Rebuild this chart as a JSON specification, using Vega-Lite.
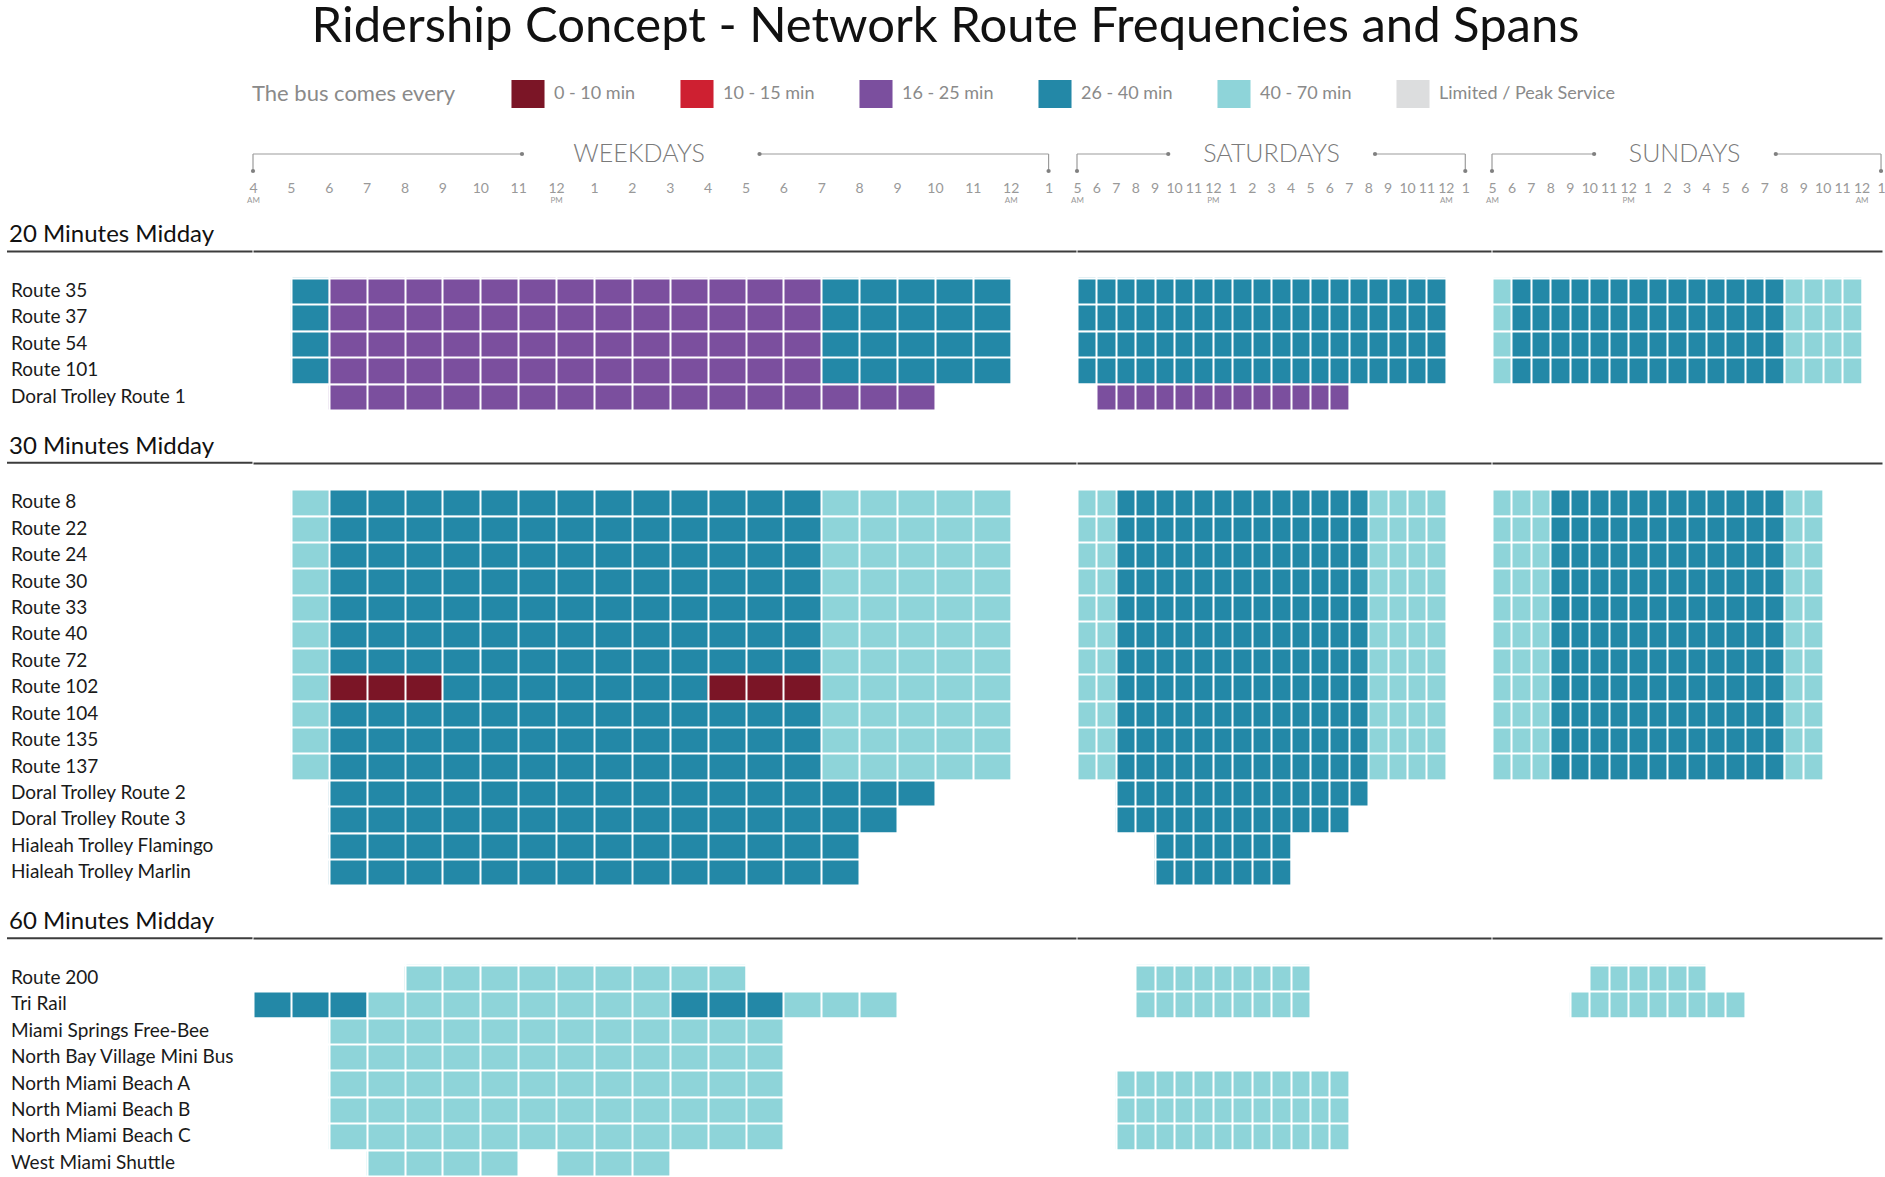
{
"$schema": "https://vega.github.io/schema/vega-lite/v6.json",
"padding": {"left": 6, "top": 3, "right": 0, "bottom": 0},
"title": {"text": "Ridership Concept - Network Route Frequencies and Spans", "font": "Lato", "fontSize": 49, "fontWeight": "normal", "color": "#111111", "anchor": "middle", "offset": 28},
"config": {"view": {"stroke": null}, "font": "Lato"},
"datasets": {
"rows": [
{"label":"20 Minutes Midday","kind":"section"},
{"label":"Route 35","kind":"route"},
{"label":"Route 37","kind":"route"},
{"label":"Route 54","kind":"route"},
{"label":"Route 101","kind":"route"},
{"label":"Doral Trolley Route 1","kind":"route"},
{"label":"30 Minutes Midday","kind":"section"},
{"label":"Route 8","kind":"route"},
{"label":"Route 22","kind":"route"},
{"label":"Route 24","kind":"route"},
{"label":"Route 30","kind":"route"},
{"label":"Route 33","kind":"route"},
{"label":"Route 40","kind":"route"},
{"label":"Route 72","kind":"route"},
{"label":"Route 102","kind":"route"},
{"label":"Route 104","kind":"route"},
{"label":"Route 135","kind":"route"},
{"label":"Route 137","kind":"route"},
{"label":"Doral Trolley Route 2","kind":"route"},
{"label":"Doral Trolley Route 3","kind":"route"},
{"label":"Hialeah Trolley Flamingo","kind":"route"},
{"label":"Hialeah Trolley Marlin","kind":"route"},
{"label":"60 Minutes Midday","kind":"section"},
{"label":"Route 200","kind":"route"},
{"label":"Tri Rail","kind":"route"},
{"label":"Miami Springs Free-Bee","kind":"route"},
{"label":"North Bay Village Mini Bus","kind":"route"},
{"label":"North Miami Beach A","kind":"route"},
{"label":"North Miami Beach B","kind":"route"},
{"label":"North Miami Beach C","kind":"route"},
{"label":"West Miami Shuttle","kind":"route"}
],
"spans": [
{"day":"Weekdays","route":"Route 35","start":5,"end":6,"freq":"26 - 40 min"},
{"day":"Weekdays","route":"Route 35","start":6,"end":19,"freq":"16 - 25 min"},
{"day":"Weekdays","route":"Route 35","start":19,"end":24,"freq":"26 - 40 min"},
{"day":"Weekdays","route":"Route 37","start":5,"end":6,"freq":"26 - 40 min"},
{"day":"Weekdays","route":"Route 37","start":6,"end":19,"freq":"16 - 25 min"},
{"day":"Weekdays","route":"Route 37","start":19,"end":24,"freq":"26 - 40 min"},
{"day":"Weekdays","route":"Route 54","start":5,"end":6,"freq":"26 - 40 min"},
{"day":"Weekdays","route":"Route 54","start":6,"end":19,"freq":"16 - 25 min"},
{"day":"Weekdays","route":"Route 54","start":19,"end":24,"freq":"26 - 40 min"},
{"day":"Weekdays","route":"Route 101","start":5,"end":6,"freq":"26 - 40 min"},
{"day":"Weekdays","route":"Route 101","start":6,"end":19,"freq":"16 - 25 min"},
{"day":"Weekdays","route":"Route 101","start":19,"end":24,"freq":"26 - 40 min"},
{"day":"Weekdays","route":"Doral Trolley Route 1","start":6,"end":22,"freq":"16 - 25 min"},
{"day":"Weekdays","route":"Route 8","start":5,"end":6,"freq":"40 - 70 min"},
{"day":"Weekdays","route":"Route 8","start":6,"end":19,"freq":"26 - 40 min"},
{"day":"Weekdays","route":"Route 8","start":19,"end":24,"freq":"40 - 70 min"},
{"day":"Weekdays","route":"Route 22","start":5,"end":6,"freq":"40 - 70 min"},
{"day":"Weekdays","route":"Route 22","start":6,"end":19,"freq":"26 - 40 min"},
{"day":"Weekdays","route":"Route 22","start":19,"end":24,"freq":"40 - 70 min"},
{"day":"Weekdays","route":"Route 24","start":5,"end":6,"freq":"40 - 70 min"},
{"day":"Weekdays","route":"Route 24","start":6,"end":19,"freq":"26 - 40 min"},
{"day":"Weekdays","route":"Route 24","start":19,"end":24,"freq":"40 - 70 min"},
{"day":"Weekdays","route":"Route 30","start":5,"end":6,"freq":"40 - 70 min"},
{"day":"Weekdays","route":"Route 30","start":6,"end":19,"freq":"26 - 40 min"},
{"day":"Weekdays","route":"Route 30","start":19,"end":24,"freq":"40 - 70 min"},
{"day":"Weekdays","route":"Route 33","start":5,"end":6,"freq":"40 - 70 min"},
{"day":"Weekdays","route":"Route 33","start":6,"end":19,"freq":"26 - 40 min"},
{"day":"Weekdays","route":"Route 33","start":19,"end":24,"freq":"40 - 70 min"},
{"day":"Weekdays","route":"Route 40","start":5,"end":6,"freq":"40 - 70 min"},
{"day":"Weekdays","route":"Route 40","start":6,"end":19,"freq":"26 - 40 min"},
{"day":"Weekdays","route":"Route 40","start":19,"end":24,"freq":"40 - 70 min"},
{"day":"Weekdays","route":"Route 72","start":5,"end":6,"freq":"40 - 70 min"},
{"day":"Weekdays","route":"Route 72","start":6,"end":19,"freq":"26 - 40 min"},
{"day":"Weekdays","route":"Route 72","start":19,"end":24,"freq":"40 - 70 min"},
{"day":"Weekdays","route":"Route 102","start":5,"end":6,"freq":"40 - 70 min"},
{"day":"Weekdays","route":"Route 102","start":6,"end":9,"freq":"0 - 10 min"},
{"day":"Weekdays","route":"Route 102","start":9,"end":16,"freq":"26 - 40 min"},
{"day":"Weekdays","route":"Route 102","start":16,"end":19,"freq":"0 - 10 min"},
{"day":"Weekdays","route":"Route 102","start":19,"end":24,"freq":"40 - 70 min"},
{"day":"Weekdays","route":"Route 104","start":5,"end":6,"freq":"40 - 70 min"},
{"day":"Weekdays","route":"Route 104","start":6,"end":19,"freq":"26 - 40 min"},
{"day":"Weekdays","route":"Route 104","start":19,"end":24,"freq":"40 - 70 min"},
{"day":"Weekdays","route":"Route 135","start":5,"end":6,"freq":"40 - 70 min"},
{"day":"Weekdays","route":"Route 135","start":6,"end":19,"freq":"26 - 40 min"},
{"day":"Weekdays","route":"Route 135","start":19,"end":24,"freq":"40 - 70 min"},
{"day":"Weekdays","route":"Route 137","start":5,"end":6,"freq":"40 - 70 min"},
{"day":"Weekdays","route":"Route 137","start":6,"end":19,"freq":"26 - 40 min"},
{"day":"Weekdays","route":"Route 137","start":19,"end":24,"freq":"40 - 70 min"},
{"day":"Weekdays","route":"Doral Trolley Route 2","start":6,"end":22,"freq":"26 - 40 min"},
{"day":"Weekdays","route":"Doral Trolley Route 3","start":6,"end":21,"freq":"26 - 40 min"},
{"day":"Weekdays","route":"Hialeah Trolley Flamingo","start":6,"end":20,"freq":"26 - 40 min"},
{"day":"Weekdays","route":"Hialeah Trolley Marlin","start":6,"end":20,"freq":"26 - 40 min"},
{"day":"Weekdays","route":"Route 200","start":8,"end":17,"freq":"40 - 70 min"},
{"day":"Weekdays","route":"Tri Rail","start":4,"end":7,"freq":"26 - 40 min"},
{"day":"Weekdays","route":"Tri Rail","start":7,"end":15,"freq":"40 - 70 min"},
{"day":"Weekdays","route":"Tri Rail","start":15,"end":18,"freq":"26 - 40 min"},
{"day":"Weekdays","route":"Tri Rail","start":18,"end":21,"freq":"40 - 70 min"},
{"day":"Weekdays","route":"Miami Springs Free-Bee","start":6,"end":18,"freq":"40 - 70 min"},
{"day":"Weekdays","route":"North Bay Village Mini Bus","start":6,"end":18,"freq":"40 - 70 min"},
{"day":"Weekdays","route":"North Miami Beach A","start":6,"end":18,"freq":"40 - 70 min"},
{"day":"Weekdays","route":"North Miami Beach B","start":6,"end":18,"freq":"40 - 70 min"},
{"day":"Weekdays","route":"North Miami Beach C","start":6,"end":18,"freq":"40 - 70 min"},
{"day":"Weekdays","route":"West Miami Shuttle","start":7,"end":11,"freq":"40 - 70 min"},
{"day":"Weekdays","route":"West Miami Shuttle","start":12,"end":15,"freq":"40 - 70 min"},
{"day":"Saturdays","route":"Route 35","start":5,"end":24,"freq":"26 - 40 min"},
{"day":"Saturdays","route":"Route 37","start":5,"end":24,"freq":"26 - 40 min"},
{"day":"Saturdays","route":"Route 54","start":5,"end":24,"freq":"26 - 40 min"},
{"day":"Saturdays","route":"Route 101","start":5,"end":24,"freq":"26 - 40 min"},
{"day":"Saturdays","route":"Doral Trolley Route 1","start":6,"end":19,"freq":"16 - 25 min"},
{"day":"Saturdays","route":"Route 8","start":5,"end":7,"freq":"40 - 70 min"},
{"day":"Saturdays","route":"Route 8","start":7,"end":20,"freq":"26 - 40 min"},
{"day":"Saturdays","route":"Route 8","start":20,"end":24,"freq":"40 - 70 min"},
{"day":"Saturdays","route":"Route 22","start":5,"end":7,"freq":"40 - 70 min"},
{"day":"Saturdays","route":"Route 22","start":7,"end":20,"freq":"26 - 40 min"},
{"day":"Saturdays","route":"Route 22","start":20,"end":24,"freq":"40 - 70 min"},
{"day":"Saturdays","route":"Route 24","start":5,"end":7,"freq":"40 - 70 min"},
{"day":"Saturdays","route":"Route 24","start":7,"end":20,"freq":"26 - 40 min"},
{"day":"Saturdays","route":"Route 24","start":20,"end":24,"freq":"40 - 70 min"},
{"day":"Saturdays","route":"Route 30","start":5,"end":7,"freq":"40 - 70 min"},
{"day":"Saturdays","route":"Route 30","start":7,"end":20,"freq":"26 - 40 min"},
{"day":"Saturdays","route":"Route 30","start":20,"end":24,"freq":"40 - 70 min"},
{"day":"Saturdays","route":"Route 33","start":5,"end":7,"freq":"40 - 70 min"},
{"day":"Saturdays","route":"Route 33","start":7,"end":20,"freq":"26 - 40 min"},
{"day":"Saturdays","route":"Route 33","start":20,"end":24,"freq":"40 - 70 min"},
{"day":"Saturdays","route":"Route 40","start":5,"end":7,"freq":"40 - 70 min"},
{"day":"Saturdays","route":"Route 40","start":7,"end":20,"freq":"26 - 40 min"},
{"day":"Saturdays","route":"Route 40","start":20,"end":24,"freq":"40 - 70 min"},
{"day":"Saturdays","route":"Route 72","start":5,"end":7,"freq":"40 - 70 min"},
{"day":"Saturdays","route":"Route 72","start":7,"end":20,"freq":"26 - 40 min"},
{"day":"Saturdays","route":"Route 72","start":20,"end":24,"freq":"40 - 70 min"},
{"day":"Saturdays","route":"Route 102","start":5,"end":7,"freq":"40 - 70 min"},
{"day":"Saturdays","route":"Route 102","start":7,"end":20,"freq":"26 - 40 min"},
{"day":"Saturdays","route":"Route 102","start":20,"end":24,"freq":"40 - 70 min"},
{"day":"Saturdays","route":"Route 104","start":5,"end":7,"freq":"40 - 70 min"},
{"day":"Saturdays","route":"Route 104","start":7,"end":20,"freq":"26 - 40 min"},
{"day":"Saturdays","route":"Route 104","start":20,"end":24,"freq":"40 - 70 min"},
{"day":"Saturdays","route":"Route 135","start":5,"end":7,"freq":"40 - 70 min"},
{"day":"Saturdays","route":"Route 135","start":7,"end":20,"freq":"26 - 40 min"},
{"day":"Saturdays","route":"Route 135","start":20,"end":24,"freq":"40 - 70 min"},
{"day":"Saturdays","route":"Route 137","start":5,"end":7,"freq":"40 - 70 min"},
{"day":"Saturdays","route":"Route 137","start":7,"end":20,"freq":"26 - 40 min"},
{"day":"Saturdays","route":"Route 137","start":20,"end":24,"freq":"40 - 70 min"},
{"day":"Saturdays","route":"Doral Trolley Route 2","start":7,"end":20,"freq":"26 - 40 min"},
{"day":"Saturdays","route":"Doral Trolley Route 3","start":7,"end":19,"freq":"26 - 40 min"},
{"day":"Saturdays","route":"Hialeah Trolley Flamingo","start":9,"end":16,"freq":"26 - 40 min"},
{"day":"Saturdays","route":"Hialeah Trolley Marlin","start":9,"end":16,"freq":"26 - 40 min"},
{"day":"Saturdays","route":"Route 200","start":8,"end":17,"freq":"40 - 70 min"},
{"day":"Saturdays","route":"Tri Rail","start":8,"end":17,"freq":"40 - 70 min"},
{"day":"Saturdays","route":"North Miami Beach A","start":7,"end":19,"freq":"40 - 70 min"},
{"day":"Saturdays","route":"North Miami Beach B","start":7,"end":19,"freq":"40 - 70 min"},
{"day":"Saturdays","route":"North Miami Beach C","start":7,"end":19,"freq":"40 - 70 min"},
{"day":"Sundays","route":"Route 35","start":5,"end":6,"freq":"40 - 70 min"},
{"day":"Sundays","route":"Route 35","start":6,"end":20,"freq":"26 - 40 min"},
{"day":"Sundays","route":"Route 35","start":20,"end":24,"freq":"40 - 70 min"},
{"day":"Sundays","route":"Route 37","start":5,"end":6,"freq":"40 - 70 min"},
{"day":"Sundays","route":"Route 37","start":6,"end":20,"freq":"26 - 40 min"},
{"day":"Sundays","route":"Route 37","start":20,"end":24,"freq":"40 - 70 min"},
{"day":"Sundays","route":"Route 54","start":5,"end":6,"freq":"40 - 70 min"},
{"day":"Sundays","route":"Route 54","start":6,"end":20,"freq":"26 - 40 min"},
{"day":"Sundays","route":"Route 54","start":20,"end":24,"freq":"40 - 70 min"},
{"day":"Sundays","route":"Route 101","start":5,"end":6,"freq":"40 - 70 min"},
{"day":"Sundays","route":"Route 101","start":6,"end":20,"freq":"26 - 40 min"},
{"day":"Sundays","route":"Route 101","start":20,"end":24,"freq":"40 - 70 min"},
{"day":"Sundays","route":"Route 8","start":5,"end":8,"freq":"40 - 70 min"},
{"day":"Sundays","route":"Route 8","start":8,"end":20,"freq":"26 - 40 min"},
{"day":"Sundays","route":"Route 8","start":20,"end":22,"freq":"40 - 70 min"},
{"day":"Sundays","route":"Route 22","start":5,"end":8,"freq":"40 - 70 min"},
{"day":"Sundays","route":"Route 22","start":8,"end":20,"freq":"26 - 40 min"},
{"day":"Sundays","route":"Route 22","start":20,"end":22,"freq":"40 - 70 min"},
{"day":"Sundays","route":"Route 24","start":5,"end":8,"freq":"40 - 70 min"},
{"day":"Sundays","route":"Route 24","start":8,"end":20,"freq":"26 - 40 min"},
{"day":"Sundays","route":"Route 24","start":20,"end":22,"freq":"40 - 70 min"},
{"day":"Sundays","route":"Route 30","start":5,"end":8,"freq":"40 - 70 min"},
{"day":"Sundays","route":"Route 30","start":8,"end":20,"freq":"26 - 40 min"},
{"day":"Sundays","route":"Route 30","start":20,"end":22,"freq":"40 - 70 min"},
{"day":"Sundays","route":"Route 33","start":5,"end":8,"freq":"40 - 70 min"},
{"day":"Sundays","route":"Route 33","start":8,"end":20,"freq":"26 - 40 min"},
{"day":"Sundays","route":"Route 33","start":20,"end":22,"freq":"40 - 70 min"},
{"day":"Sundays","route":"Route 40","start":5,"end":8,"freq":"40 - 70 min"},
{"day":"Sundays","route":"Route 40","start":8,"end":20,"freq":"26 - 40 min"},
{"day":"Sundays","route":"Route 40","start":20,"end":22,"freq":"40 - 70 min"},
{"day":"Sundays","route":"Route 72","start":5,"end":8,"freq":"40 - 70 min"},
{"day":"Sundays","route":"Route 72","start":8,"end":20,"freq":"26 - 40 min"},
{"day":"Sundays","route":"Route 72","start":20,"end":22,"freq":"40 - 70 min"},
{"day":"Sundays","route":"Route 102","start":5,"end":8,"freq":"40 - 70 min"},
{"day":"Sundays","route":"Route 102","start":8,"end":20,"freq":"26 - 40 min"},
{"day":"Sundays","route":"Route 102","start":20,"end":22,"freq":"40 - 70 min"},
{"day":"Sundays","route":"Route 104","start":5,"end":8,"freq":"40 - 70 min"},
{"day":"Sundays","route":"Route 104","start":8,"end":20,"freq":"26 - 40 min"},
{"day":"Sundays","route":"Route 104","start":20,"end":22,"freq":"40 - 70 min"},
{"day":"Sundays","route":"Route 135","start":5,"end":8,"freq":"40 - 70 min"},
{"day":"Sundays","route":"Route 135","start":8,"end":20,"freq":"26 - 40 min"},
{"day":"Sundays","route":"Route 135","start":20,"end":22,"freq":"40 - 70 min"},
{"day":"Sundays","route":"Route 137","start":5,"end":8,"freq":"40 - 70 min"},
{"day":"Sundays","route":"Route 137","start":8,"end":20,"freq":"26 - 40 min"},
{"day":"Sundays","route":"Route 137","start":20,"end":22,"freq":"40 - 70 min"},
{"day":"Sundays","route":"Route 200","start":10,"end":16,"freq":"40 - 70 min"},
{"day":"Sundays","route":"Tri Rail","start":9,"end":18,"freq":"40 - 70 min"}
]
},
"spacing": 85,
"bounds": "flush",
"vconcat": [
{"spacing": 0, "bounds": "flush", "hconcat": [
 {"width": 246, "height": 40, "data": {"values": [{}]}, "mark": {"type": "text", "text": ""}, "encoding": {}},
 {"width": 824, "height": 40, "data": {"values": [{}]}, "resolve": {"axis": {"x": "independent"}},
  "layer": [
   {"mark": {"type": "rule", "color": "#9b9b9b", "strokeWidth": 1.2},
    "encoding": {
     "x": {"datum": 4, "type": "quantitative", "scale": {"domain": [4, 25.75], "nice": false, "zero": false},
      "axis": {"orient": "bottom", "values": [4,5,6,7,8,9,10,11,12,13,14,15,16,17,18,19,20,21,22,23,24,25], "labelExpr": "datum.value % 12 == 0 ? '12' : '' + (datum.value % 12)", "labelFontSize": 14, "labelColor": "#999999", "labelFontWeight": "normal", "labelPadding": 1, "labelOverlap": false, "labelFlush": false, "labelBaseline": "top", "ticks": false, "tickSize": 0, "domain": false, "grid": false, "title": null}},
     "x2": {"datum": 11.1},
     "y": {"datum": 14, "type": "quantitative", "scale": {"domain": [0, 40], "reverse": true, "nice": false, "zero": false}, "axis": null}}},
   {"mark": {"type": "rule", "color": "#9b9b9b", "strokeWidth": 1.2},
    "encoding": {
     "x": {"datum": 17.37, "type": "quantitative",
      "axis": {"orient": "bottom", "values": [4, 12, 24], "labelExpr": "datum.value == 12 ? 'PM' : 'AM'", "labelFontSize": 8, "labelColor": "#999999", "labelPadding": 16, "labelOverlap": false, "labelFlush": false, "labelBaseline": "top", "ticks": false, "tickSize": 0, "domain": false, "grid": false, "title": null}},
     "x2": {"datum": 25},
     "y": {"datum": 14, "type": "quantitative", "axis": null}}},
   {"mark": {"type": "rule", "color": "#9b9b9b", "strokeWidth": 1.2},
    "encoding": {"x": {"datum": 4, "type": "quantitative", "axis": null}, "y": {"datum": 14, "type": "quantitative", "axis": null}, "y2": {"datum": 31}}},
   {"mark": {"type": "rule", "color": "#9b9b9b", "strokeWidth": 1.2},
    "encoding": {"x": {"datum": 25, "type": "quantitative", "axis": null}, "y": {"datum": 14, "type": "quantitative", "axis": null}, "y2": {"datum": 31}}},
   {"mark": {"type": "point", "filled": true, "size": 18, "color": "#808080", "opacity": 1},
    "encoding": {"x": {"datum": 4, "type": "quantitative", "axis": null}, "y": {"datum": 31, "type": "quantitative", "axis": null}}},
   {"mark": {"type": "point", "filled": true, "size": 18, "color": "#808080", "opacity": 1},
    "encoding": {"x": {"datum": 25, "type": "quantitative", "axis": null}, "y": {"datum": 31, "type": "quantitative", "axis": null}}},
   {"mark": {"type": "point", "filled": true, "size": 18, "color": "#808080", "opacity": 1},
    "encoding": {"x": {"datum": 11.1, "type": "quantitative", "axis": null}, "y": {"datum": 14, "type": "quantitative", "axis": null}}},
   {"mark": {"type": "point", "filled": true, "size": 18, "color": "#808080", "opacity": 1},
    "encoding": {"x": {"datum": 17.37, "type": "quantitative", "axis": null}, "y": {"datum": 14, "type": "quantitative", "axis": null}}},
   {"mark": {"type": "text", "text": "WEEKDAYS", "fontSize": 25, "fontWeight": 300, "color": "#7a7a7a", "align": "center", "baseline": "middle"},
    "encoding": {"x": {"datum": 14.19, "type": "quantitative", "axis": null}, "y": {"datum": 14, "type": "quantitative", "axis": null}}}
  ]},
 {"width": 414.5, "height": 40, "data": {"values": [{}]}, "resolve": {"axis": {"x": "independent"}},
  "layer": [
   {"mark": {"type": "rule", "color": "#9b9b9b", "strokeWidth": 1.2},
    "encoding": {
     "x": {"datum": 5, "type": "quantitative", "scale": {"domain": [5, 26.35], "nice": false, "zero": false},
      "axis": {"orient": "bottom", "values": [5,6,7,8,9,10,11,12,13,14,15,16,17,18,19,20,21,22,23,24,25], "labelExpr": "datum.value % 12 == 0 ? '12' : '' + (datum.value % 12)", "labelFontSize": 14, "labelColor": "#999999", "labelFontWeight": "normal", "labelPadding": 1, "labelOverlap": false, "labelFlush": false, "labelBaseline": "top", "ticks": false, "tickSize": 0, "domain": false, "grid": false, "title": null}},
     "x2": {"datum": 9.7},
     "y": {"datum": 14, "type": "quantitative", "scale": {"domain": [0, 40], "reverse": true, "nice": false, "zero": false}, "axis": null}}},
   {"mark": {"type": "rule", "color": "#9b9b9b", "strokeWidth": 1.2},
    "encoding": {
     "x": {"datum": 20.35, "type": "quantitative",
      "axis": {"orient": "bottom", "values": [5, 12, 24], "labelExpr": "datum.value == 12 ? 'PM' : 'AM'", "labelFontSize": 8, "labelColor": "#999999", "labelPadding": 16, "labelOverlap": false, "labelFlush": false, "labelBaseline": "top", "ticks": false, "tickSize": 0, "domain": false, "grid": false, "title": null}},
     "x2": {"datum": 25},
     "y": {"datum": 14, "type": "quantitative", "axis": null}}},
   {"mark": {"type": "rule", "color": "#9b9b9b", "strokeWidth": 1.2},
    "encoding": {"x": {"datum": 5, "type": "quantitative", "axis": null}, "y": {"datum": 14, "type": "quantitative", "axis": null}, "y2": {"datum": 31}}},
   {"mark": {"type": "rule", "color": "#9b9b9b", "strokeWidth": 1.2},
    "encoding": {"x": {"datum": 25, "type": "quantitative", "axis": null}, "y": {"datum": 14, "type": "quantitative", "axis": null}, "y2": {"datum": 31}}},
   {"mark": {"type": "point", "filled": true, "size": 18, "color": "#808080", "opacity": 1},
    "encoding": {"x": {"datum": 5, "type": "quantitative", "axis": null}, "y": {"datum": 31, "type": "quantitative", "axis": null}}},
   {"mark": {"type": "point", "filled": true, "size": 18, "color": "#808080", "opacity": 1},
    "encoding": {"x": {"datum": 25, "type": "quantitative", "axis": null}, "y": {"datum": 31, "type": "quantitative", "axis": null}}},
   {"mark": {"type": "point", "filled": true, "size": 18, "color": "#808080", "opacity": 1},
    "encoding": {"x": {"datum": 9.7, "type": "quantitative", "axis": null}, "y": {"datum": 14, "type": "quantitative", "axis": null}}},
   {"mark": {"type": "point", "filled": true, "size": 18, "color": "#808080", "opacity": 1},
    "encoding": {"x": {"datum": 20.35, "type": "quantitative", "axis": null}, "y": {"datum": 14, "type": "quantitative", "axis": null}}},
   {"mark": {"type": "text", "text": "SATURDAYS", "fontSize": 25, "fontWeight": 300, "color": "#7a7a7a", "align": "center", "baseline": "middle"},
    "encoding": {"x": {"datum": 15.02, "type": "quantitative", "axis": null}, "y": {"datum": 14, "type": "quantitative", "axis": null}}}
  ]},
 {"width": 390, "height": 40, "data": {"values": [{}]}, "resolve": {"axis": {"x": "independent"}},
  "layer": [
   {"mark": {"type": "rule", "color": "#9b9b9b", "strokeWidth": 1.2},
    "encoding": {
     "x": {"datum": 5, "type": "quantitative", "scale": {"domain": [5, 25.05], "nice": false, "zero": false},
      "axis": {"orient": "bottom", "values": [5,6,7,8,9,10,11,12,13,14,15,16,17,18,19,20,21,22,23,24,25], "labelExpr": "datum.value % 12 == 0 ? '12' : '' + (datum.value % 12)", "labelFontSize": 14, "labelColor": "#999999", "labelFontWeight": "normal", "labelPadding": 1, "labelOverlap": false, "labelFlush": false, "labelBaseline": "top", "ticks": false, "tickSize": 0, "domain": false, "grid": false, "title": null}},
     "x2": {"datum": 10.25},
     "y": {"datum": 14, "type": "quantitative", "scale": {"domain": [0, 40], "reverse": true, "nice": false, "zero": false}, "axis": null}}},
   {"mark": {"type": "rule", "color": "#9b9b9b", "strokeWidth": 1.2},
    "encoding": {
     "x": {"datum": 19.59, "type": "quantitative",
      "axis": {"orient": "bottom", "values": [5, 12, 24], "labelExpr": "datum.value == 12 ? 'PM' : 'AM'", "labelFontSize": 8, "labelColor": "#999999", "labelPadding": 16, "labelOverlap": false, "labelFlush": false, "labelBaseline": "top", "ticks": false, "tickSize": 0, "domain": false, "grid": false, "title": null}},
     "x2": {"datum": 25},
     "y": {"datum": 14, "type": "quantitative", "axis": null}}},
   {"mark": {"type": "rule", "color": "#9b9b9b", "strokeWidth": 1.2},
    "encoding": {"x": {"datum": 5, "type": "quantitative", "axis": null}, "y": {"datum": 14, "type": "quantitative", "axis": null}, "y2": {"datum": 31}}},
   {"mark": {"type": "rule", "color": "#9b9b9b", "strokeWidth": 1.2},
    "encoding": {"x": {"datum": 25, "type": "quantitative", "axis": null}, "y": {"datum": 14, "type": "quantitative", "axis": null}, "y2": {"datum": 31}}},
   {"mark": {"type": "point", "filled": true, "size": 18, "color": "#808080", "opacity": 1},
    "encoding": {"x": {"datum": 5, "type": "quantitative", "axis": null}, "y": {"datum": 31, "type": "quantitative", "axis": null}}},
   {"mark": {"type": "point", "filled": true, "size": 18, "color": "#808080", "opacity": 1},
    "encoding": {"x": {"datum": 25, "type": "quantitative", "axis": null}, "y": {"datum": 31, "type": "quantitative", "axis": null}}},
   {"mark": {"type": "point", "filled": true, "size": 18, "color": "#808080", "opacity": 1},
    "encoding": {"x": {"datum": 10.25, "type": "quantitative", "axis": null}, "y": {"datum": 14, "type": "quantitative", "axis": null}}},
   {"mark": {"type": "point", "filled": true, "size": 18, "color": "#808080", "opacity": 1},
    "encoding": {"x": {"datum": 19.59, "type": "quantitative", "axis": null}, "y": {"datum": 14, "type": "quantitative", "axis": null}}},
   {"mark": {"type": "text", "text": "SUNDAYS", "fontSize": 25, "fontWeight": 300, "color": "#7a7a7a", "align": "center", "baseline": "middle"},
    "encoding": {"x": {"datum": 14.9, "type": "quantitative", "axis": null}, "y": {"datum": 14, "type": "quantitative", "axis": null}}}
  ]}
]},
{"spacing": 0, "bounds": "flush", "hconcat": [
 {"width": 246, "height": 951, "data": {"name": "rows"},
  "layer": [
   {"transform": [{"filter": "datum.kind == 'route'"}],
    "mark": {"type": "text", "align": "left", "baseline": "middle", "fontSize": 19, "color": "#1a1a1a", "dx": 4},
    "encoding": {
     "x": {"datum": 0, "type": "quantitative", "scale": {"domain": [0, 1]}, "axis": null},
     "y": {"field": "label", "type": "nominal", "scale": {"domain": ["20 Minutes Midday","_g1","Route 35","Route 37","Route 54","Route 101","Doral Trolley Route 1","_g2","30 Minutes Midday","_g3","Route 8","Route 22","Route 24","Route 30","Route 33","Route 40","Route 72","Route 102","Route 104","Route 135","Route 137","Doral Trolley Route 2","Doral Trolley Route 3","Hialeah Trolley Flamingo","Hialeah Trolley Marlin","_g4","60 Minutes Midday","_g5","Route 200","Tri Rail","Miami Springs Free-Bee","North Bay Village Mini Bus","North Miami Beach A","North Miami Beach B","North Miami Beach C","West Miami Shuttle"], "paddingInner": 0, "paddingOuter": 0}, "axis": null},
     "text": {"field": "label"}}},
   {"transform": [{"filter": "datum.kind == 'section'"}],
    "mark": {"type": "text", "align": "left", "baseline": "middle", "fontSize": 24, "color": "#111111", "dx": 2, "dy": -3},
    "encoding": {
     "x": {"datum": 0, "type": "quantitative", "axis": null},
     "y": {"field": "label", "type": "nominal", "axis": null},
     "text": {"field": "label"}}},
   {"transform": [{"filter": "datum.kind == 'section'"}],
    "mark": {"type": "rule", "color": "#3c3c3c", "strokeWidth": 2},
    "encoding": {"y": {"field": "label", "type": "nominal", "bandPosition": 1, "axis": null}}}
  ]},
 {"width": 824, "height": 951, "data": {"name": "spans"},
  "transform": [{"filter": "datum.day == 'Weekdays'"}],
  "mark": {"type": "rect"},
  "encoding": {
   "x": {"field": "start", "type": "quantitative", "scale": {"domain": [4, 25.75], "nice": false, "zero": false},
    "axis": {"orient": "top", "values": [4,5,6,7,8,9,10,11,12,13,14,15,16,17,18,19,20,21,22,23,24,25], "labels": false, "ticks": false, "domain": false, "grid": true, "gridColor": "#ffffff", "gridWidth": 2, "gridOpacity": 1, "zindex": 1, "title": null}},
   "x2": {"field": "end"},
   "y": {"field": "route", "type": "nominal", "scale": {"domain": ["20 Minutes Midday","_g1","Route 35","Route 37","Route 54","Route 101","Doral Trolley Route 1","_g2","30 Minutes Midday","_g3","Route 8","Route 22","Route 24","Route 30","Route 33","Route 40","Route 72","Route 102","Route 104","Route 135","Route 137","Doral Trolley Route 2","Doral Trolley Route 3","Hialeah Trolley Flamingo","Hialeah Trolley Marlin","_g4","60 Minutes Midday","_g5","Route 200","Tri Rail","Miami Springs Free-Bee","North Bay Village Mini Bus","North Miami Beach A","North Miami Beach B","North Miami Beach C","West Miami Shuttle"], "paddingInner": 0, "paddingOuter": 0},
    "axis": {"labels": false, "ticks": false, "domain": false, "grid": true, "tickBand": "extent", "gridColor": {"condition": {"test": "indexof(['20 Minutes Midday','30 Minutes Midday','60 Minutes Midday'], datum.value) >= 0", "value": "#3c3c3c"}, "value": "#ffffff"}, "gridWidth": 2, "gridOpacity": 1, "zindex": 1, "title": null}},
   "color": {"field": "freq", "type": "nominal", "scale": {"domain": ["0 - 10 min","10 - 15 min","16 - 25 min","26 - 40 min","40 - 70 min","Limited / Peak Service"], "range": ["#7B1526","#CE2031","#7B4F9E","#2388A7","#8ED4D9","#DCDDDE"]},
    "legend": {"orient": "none", "legendX": 245, "legendY": -60, "direction": "horizontal", "title": "The bus comes every", "titleOrient": "left", "titleAnchor": "middle", "titleBaseline": "middle", "titleFontSize": 22, "titleFontWeight": "normal", "titleColor": "#8a8a8a", "titlePadding": 58, "titleLimit": 400, "labelFontSize": 18, "labelColor": "#8a8a8a", "labelOffset": 12, "labelLimit": 300, "columnPadding": 44, "symbolType": "M-1.18,-1H1.18V1H-1.18Z", "symbolSize": 784, "symbolStrokeWidth": 0, "symbolOpacity": 1, "padding": 0}}
  }},
 {"width": 414.5, "height": 951, "data": {"name": "spans"},
  "transform": [{"filter": "datum.day == 'Saturdays'"}],
  "mark": {"type": "rect"},
  "encoding": {
   "x": {"field": "start", "type": "quantitative", "scale": {"domain": [5, 26.35], "nice": false, "zero": false},
    "axis": {"orient": "top", "values": [5,6,7,8,9,10,11,12,13,14,15,16,17,18,19,20,21,22,23,24,25], "labels": false, "ticks": false, "domain": false, "grid": true, "gridColor": "#ffffff", "gridWidth": 2, "gridOpacity": 1, "zindex": 1, "title": null}},
   "x2": {"field": "end"},
   "y": {"field": "route", "type": "nominal", "scale": {"domain": ["20 Minutes Midday","_g1","Route 35","Route 37","Route 54","Route 101","Doral Trolley Route 1","_g2","30 Minutes Midday","_g3","Route 8","Route 22","Route 24","Route 30","Route 33","Route 40","Route 72","Route 102","Route 104","Route 135","Route 137","Doral Trolley Route 2","Doral Trolley Route 3","Hialeah Trolley Flamingo","Hialeah Trolley Marlin","_g4","60 Minutes Midday","_g5","Route 200","Tri Rail","Miami Springs Free-Bee","North Bay Village Mini Bus","North Miami Beach A","North Miami Beach B","North Miami Beach C","West Miami Shuttle"], "paddingInner": 0, "paddingOuter": 0},
    "axis": {"labels": false, "ticks": false, "domain": false, "grid": true, "tickBand": "extent", "gridColor": {"condition": {"test": "indexof(['20 Minutes Midday','30 Minutes Midday','60 Minutes Midday'], datum.value) >= 0", "value": "#3c3c3c"}, "value": "#ffffff"}, "gridWidth": 2, "gridOpacity": 1, "zindex": 1, "title": null}},
   "color": {"field": "freq", "type": "nominal", "scale": {"domain": ["0 - 10 min","10 - 15 min","16 - 25 min","26 - 40 min","40 - 70 min","Limited / Peak Service"], "range": ["#7B1526","#CE2031","#7B4F9E","#2388A7","#8ED4D9","#DCDDDE"]},
    "legend": {"orient": "none", "legendX": 245, "legendY": -60, "direction": "horizontal", "title": "The bus comes every", "titleOrient": "left", "titleAnchor": "middle", "titleBaseline": "middle", "titleFontSize": 22, "titleFontWeight": "normal", "titleColor": "#8a8a8a", "titlePadding": 58, "titleLimit": 400, "labelFontSize": 18, "labelColor": "#8a8a8a", "labelOffset": 12, "labelLimit": 300, "columnPadding": 44, "symbolType": "M-1.18,-1H1.18V1H-1.18Z", "symbolSize": 784, "symbolStrokeWidth": 0, "symbolOpacity": 1, "padding": 0}}
  }},
 {"width": 390, "height": 951, "data": {"name": "spans"},
  "transform": [{"filter": "datum.day == 'Sundays'"}],
  "mark": {"type": "rect"},
  "encoding": {
   "x": {"field": "start", "type": "quantitative", "scale": {"domain": [5, 25.05], "nice": false, "zero": false},
    "axis": {"orient": "top", "values": [5,6,7,8,9,10,11,12,13,14,15,16,17,18,19,20,21,22,23,24,25], "labels": false, "ticks": false, "domain": false, "grid": true, "gridColor": "#ffffff", "gridWidth": 2, "gridOpacity": 1, "zindex": 1, "title": null}},
   "x2": {"field": "end"},
   "y": {"field": "route", "type": "nominal", "scale": {"domain": ["20 Minutes Midday","_g1","Route 35","Route 37","Route 54","Route 101","Doral Trolley Route 1","_g2","30 Minutes Midday","_g3","Route 8","Route 22","Route 24","Route 30","Route 33","Route 40","Route 72","Route 102","Route 104","Route 135","Route 137","Doral Trolley Route 2","Doral Trolley Route 3","Hialeah Trolley Flamingo","Hialeah Trolley Marlin","_g4","60 Minutes Midday","_g5","Route 200","Tri Rail","Miami Springs Free-Bee","North Bay Village Mini Bus","North Miami Beach A","North Miami Beach B","North Miami Beach C","West Miami Shuttle"], "paddingInner": 0, "paddingOuter": 0},
    "axis": {"labels": false, "ticks": false, "domain": false, "grid": true, "tickBand": "extent", "gridColor": {"condition": {"test": "indexof(['20 Minutes Midday','30 Minutes Midday','60 Minutes Midday'], datum.value) >= 0", "value": "#3c3c3c"}, "value": "#ffffff"}, "gridWidth": 2, "gridOpacity": 1, "zindex": 1, "title": null}},
   "color": {"field": "freq", "type": "nominal", "scale": {"domain": ["0 - 10 min","10 - 15 min","16 - 25 min","26 - 40 min","40 - 70 min","Limited / Peak Service"], "range": ["#7B1526","#CE2031","#7B4F9E","#2388A7","#8ED4D9","#DCDDDE"]},
    "legend": {"orient": "none", "legendX": 245, "legendY": -60, "direction": "horizontal", "title": "The bus comes every", "titleOrient": "left", "titleAnchor": "middle", "titleBaseline": "middle", "titleFontSize": 22, "titleFontWeight": "normal", "titleColor": "#8a8a8a", "titlePadding": 58, "titleLimit": 400, "labelFontSize": 18, "labelColor": "#8a8a8a", "labelOffset": 12, "labelLimit": 300, "columnPadding": 44, "symbolType": "M-1.18,-1H1.18V1H-1.18Z", "symbolSize": 784, "symbolStrokeWidth": 0, "symbolOpacity": 1, "padding": 0}}
  }}
]}
]
}
